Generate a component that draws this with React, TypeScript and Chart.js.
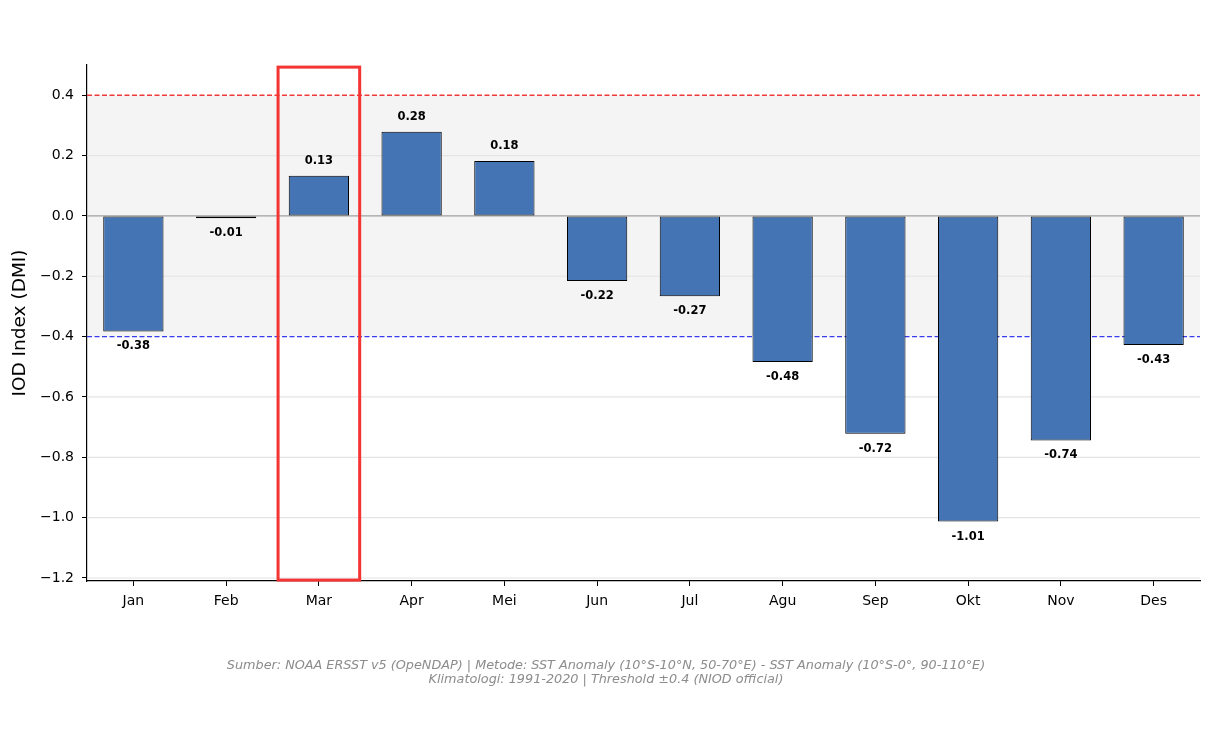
import React, { useEffect, useRef } from "react";
import { Chart, registerables } from "chart.js";

Chart.register(...registerables);

const months = ["Jan", "Feb", "Mar", "Apr", "Mei", "Jun", "Jul", "Agu", "Sep", "Okt", "Nov", "Des"];
const dmiValues = [-0.383, -0.008, 0.133, 0.279, 0.182, -0.216, -0.266, -0.484, -0.722, -1.013, -0.744, -0.428];
const yTicks = [0.4, 0.2, 0.0, -0.2, -0.4, -0.6, -0.8, -1.0, -1.2];
const thresholdPos = 0.4;
const thresholdNeg = -0.4;
const highlightIndex = 2;
const footerLines = [
  "Sumber: NOAA ERSST v5 (OpeNDAP) | Metode: SST Anomaly (10°S-10°N, 50-70°E) - SST Anomaly (10°S-0°, 90-110°E)",
  "Klimatologi: 1991-2020 | Threshold ±0.4 (NIOD official)",
];

const FONT = "'DejaVu Sans', sans-serif";

const fmtTick = (v: number) => {
  const s = Math.abs(v).toFixed(1);
  return v < -1e-9 ? "\u2212" + s : s;
};

const decorPlugin = {
  id: "decor",
  beforeDraw(chart: any) {
    const { ctx, chartArea, scales } = chart;
    const y = scales.y;
    ctx.save();
    const top = y.getPixelForValue(thresholdPos);
    const bot = y.getPixelForValue(thresholdNeg);
    ctx.fillStyle = "#f4f4f4";
    ctx.fillRect(chartArea.left, top, chartArea.right - chartArea.left, bot - top);
    ctx.restore();
  },
  beforeDatasetsDraw(chart: any) {
    const { ctx, chartArea, scales } = chart;
    const y = scales.y;
    ctx.save();
    // grid lines
    ctx.strokeStyle = "#e4e4e4";
    ctx.lineWidth = 1.2;
    yTicks.forEach((v) => {
      if (Math.abs(v) < 1e-9 || Math.abs(Math.abs(v) - 0.4) < 1e-9) return;
      const py = y.getPixelForValue(v);
      ctx.beginPath();
      ctx.moveTo(chartArea.left, py);
      ctx.lineTo(chartArea.right, py);
      ctx.stroke();
    });
    // zero line
    const z = y.getPixelForValue(0);
    ctx.strokeStyle = "#a0a0a0";
    ctx.lineWidth = 1.2;
    ctx.beginPath();
    ctx.moveTo(chartArea.left, z);
    ctx.lineTo(chartArea.right, z);
    ctx.stroke();
    // thresholds
    ctx.setLineDash([5, 2.5]);
    ctx.lineWidth = 1.4;
    const tp = y.getPixelForValue(thresholdPos);
    ctx.strokeStyle = "#f03a3a";
    ctx.beginPath();
    ctx.moveTo(chartArea.left, tp);
    ctx.lineTo(chartArea.right, tp);
    ctx.stroke();
    const tn = y.getPixelForValue(thresholdNeg);
    ctx.strokeStyle = "#3a3af0";
    ctx.beginPath();
    ctx.moveTo(chartArea.left, tn);
    ctx.lineTo(chartArea.right, tn);
    ctx.stroke();
    ctx.restore();
  },
  afterDatasetsDraw(chart: any) {
    const { ctx, scales } = chart;
    const x = scales.x;
    const y = scales.y;
    ctx.save();
    ctx.font = "bold 11.5px " + FONT;
    ctx.fillStyle = "#000";
    ctx.textAlign = "center";
    ctx.textBaseline = "middle";
    const meta = chart.getDatasetMeta(0);
    dmiValues.forEach((v, i) => {
      const bar = meta.data[i];
      const px = bar.x;
      const py = y.getPixelForValue(v);
      const label = v.toFixed(2);
      if (v >= 0) ctx.fillText(label, px, py - 15);
      else ctx.fillText(label, px, py + 15);
    });
    // highlight box
    const cx = x.getPixelForValue(highlightIndex);
    const catW = (x.right - x.left) / months.length;
    const bx0 = cx - catW * 0.44;
    const bx1 = cx + catW * 0.44;
    const by0 = y.getPixelForValue(0.493);
    const by1 = y.getPixelForValue(-1.207);
    ctx.strokeStyle = "#f43333";
    ctx.lineWidth = 3;
    ctx.strokeRect(bx0, by0, bx1 - bx0, by1 - by0);
    // footer
    ctx.font = "italic 12.8px " + FONT;
    ctx.fillStyle = "#8c8c8c";
    ctx.textAlign = "center";
    ctx.fillText(footerLines[0], 606, 666);
    ctx.fillText(footerLines[1], 606, 680);
    ctx.restore();
  },
};

export default function App() {
  const ref = useRef<HTMLCanvasElement | null>(null);
  useEffect(() => {
    document.body.style.margin = "0";
    Chart.defaults.font.family = FONT;
    const chart = new Chart(ref.current as HTMLCanvasElement, {
      type: "bar",
      data: {
        labels: months,
        datasets: [
          {
            data: dmiValues,
            backgroundColor: "#4474b4",
            borderColor: "#000",
            borderWidth: 1,
            borderSkipped: false,
            categoryPercentage: 0.65,
            barPercentage: 1.0,
          },
        ],
      },
      options: {
        responsive: false,
        animation: false,
        layout: { padding: { top: 65, right: 13, left: 0, bottom: 0 } },
        plugins: { legend: { display: false }, tooltip: { enabled: false }, title: { display: false } },
        scales: {
          x: {
            grid: { display: true, drawOnChartArea: false, drawTicks: true, tickLength: 5, color: "#000", offset: false },
            border: { display: true, color: "#000", width: 1.2 },
            ticks: { color: "#000", font: { size: 14, family: FONT }, padding: 7 },
            afterFit: (s: any) => {
              s.height = 752 - 581;
            },
          },
          y: {
            min: -1.21,
            max: 0.5,
            afterBuildTicks: (s: any) => {
              s.ticks = yTicks.map((v) => ({ value: v }));
            },
            afterFit: (s: any) => {
              s.width = 87;
            },
            grid: { display: true, drawOnChartArea: false, drawTicks: true, tickLength: 5, color: "#000" },
            border: { display: true, color: "#000", width: 1.2 },
            ticks: {
              color: "#000",
              font: { size: 14, family: FONT },
              padding: 8,
              callback: (v: any) => fmtTick(Number(v)),
            },
            title: {
              display: true,
              text: "IOD Index (DMI)",
              color: "#000",
              font: { size: 18.5, family: FONT },
              padding: { top: 9, bottom: 0 },
            },
          },
        },
      },
      plugins: [decorPlugin],
    });
    return () => chart.destroy();
  }, []);
  return (
    <div style={{ width: 1213, height: 752 }}>
      <canvas ref={ref} width={1213} height={752} />
    </div>
  );
}
